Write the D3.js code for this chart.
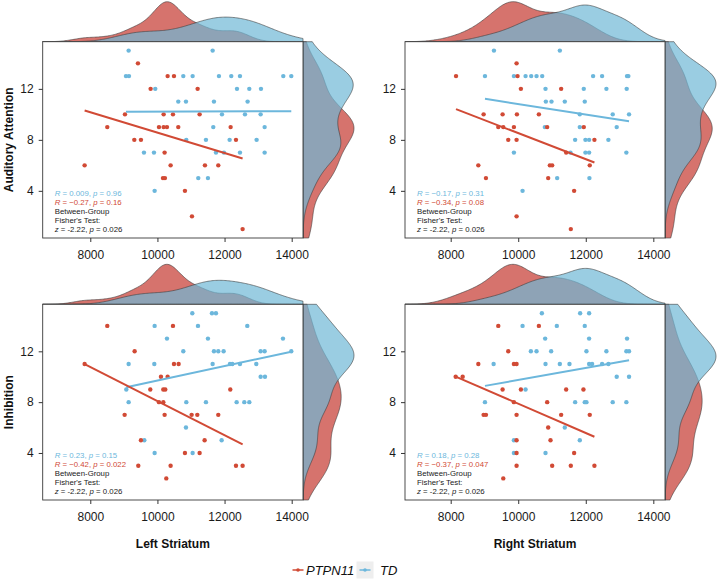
<!DOCTYPE html>
<html>
<head>
<meta charset="utf-8">
<script src="https://cdn.jsdelivr.net/npm/d3@7/dist/d3.min.js"></script>
<style>
  body { margin: 0; background: #fff; }
  text { font-family: "Liberation Sans", Arial, sans-serif; }
</style>
</head>
<body>
<div id="chart"></div>
<script>

// [striatum volume, score]
const attnLeftPTPN11 = [[9420,14],[10304,13],[10493,13],[9797,12],[11198,12],[9033,10],[10185,10],[10463,10],[11257,10],[8506,9],[10046,9],[10185,9],[10284,9],[10621,9],[12181,9],[9311,8],[9509,8],[12340,8],[10214,7],[7831,6],[10393,6],[11416,6],[11813,6],[10165,5],[10224,5],[10820,4],[11029,2],[12538,1]];
const attnLeftTD = [[9142,15],[11645,15],[9063,13],[9152,13],[10771,13],[11049,13],[11833,13],[12200,13],[12459,13],[13750,13],[13988,13],[9936,12],[12370,12],[12737,12],[13085,12],[10621,11],[10850,11],[11684,11],[12687,11],[11923,10],[12608,10],[13075,10],[11664,9],[13194,9],[10860,8],[11446,8],[12151,8],[12955,8],[9599,7],[9897,7],[11744,7],[11982,7],[12459,7],[13194,7],[11217,5],[11505,5],[9917,4]];

const attnRightPTPN11 = [[8158,13],[9951,14],[9980,13],[10079,12],[11271,12],[8975,10],[9537,10],[9961,10],[10611,10],[9409,9],[9557,9],[9872,9],[10857,9],[11941,9],[9704,8],[9951,8],[12256,8],[11419,7],[8818,6],[10936,6],[11005,6],[12118,6],[9044,5],[10887,5],[11655,4],[9951,2],[11557,1]];
const attnRightTD = [[9281,15],[11232,15],[9015,13],[9872,13],[10217,13],[10384,13],[10542,13],[10710,13],[12217,13],[12483,13],[13222,13],[13261,13],[10808,12],[11941,12],[12611,12],[13212,12],[10818,11],[10985,11],[11379,11],[11970,11],[11823,10],[12798,10],[13281,10],[10788,9],[11823,9],[12916,9],[11685,8],[11990,8],[12099,8],[12670,8],[9872,7],[11547,7],[11990,7],[12099,7],[13202,7],[11153,5],[12108,5],[10128,4]];

const inhLeftPTPN11 = [[8506,14],[10463,14],[9321,12],[7831,11],[10493,11],[10632,11],[10105,10],[10304,10],[9787,9],[10175,9],[10234,9],[12171,9],[10046,8],[10175,8],[9023,7],[10214,7],[11019,7],[11188,7],[11813,7],[9509,5],[11406,5],[10820,4],[11257,4],[9430,3],[10393,3],[12340,3],[12538,3],[10264,2]];
const inhLeftTD = [[11039,15],[11625,15],[11744,15],[9917,14],[11208,14],[12677,14],[10284,13],[11505,13],[13740,13],[10771,12],[11684,12],[11813,12],[11972,12],[13075,12],[13194,12],[13988,12],[9142,11],[9907,11],[11645,11],[12161,11],[12231,11],[12459,11],[12945,11],[13075,10],[13204,10],[9073,9],[9142,8],[10860,8],[11446,8],[12360,8],[12588,8],[12737,8],[10850,6],[9609,5],[11913,5],[9917,4],[11049,4]];

const inhRightPTPN11 = [[9409,14],[10611,14],[9704,12],[8818,11],[9872,11],[9951,11],[8148,10],[8355,10],[9537,9],[10079,9],[11419,9],[11931,9],[9872,8],[10857,8],[8975,7],[9044,7],[9951,7],[11271,7],[12118,7],[10887,6],[9951,5],[10956,5],[9951,4],[11655,4],[9951,3],[11005,3],[11557,3],[12256,3],[9557,2]];
const inhRightTD = [[10700,15],[11833,15],[12099,15],[10128,14],[11143,14],[11970,14],[10798,13],[12099,13],[13222,13],[10374,12],[10542,12],[10975,12],[12020,12],[12611,12],[13202,12],[13281,12],[9271,11],[10808,11],[11232,11],[11517,11],[12099,11],[12187,11],[12483,11],[12670,11],[12916,10],[13281,10],[10217,9],[9015,8],[11685,8],[11970,8],[12020,8],[12798,8],[13202,8],[11379,6],[9872,5],[11823,5],[9872,4],[10808,4]];

// regression line end points [[x0,y0],[x1,y1]]
const fitPTPN11 = [[[7831,10.3],[12538,6.54]], [[8158,10.41],[12256,6.22]], [[7831,11.0],[12538,4.68]], [[8148,10.01],[12256,5.28]]];
const fitTD = [[[9063,10.2],[13988,10.25]], [[9015,11.22],[13281,9.46]], [[9073,9.18],[13988,11.97]], [[9015,9.28],[13281,11.29]]];

// correlation labels
const rTD = ["0.009", "\u22120.17", "0.23", "0.18"];
const pTD = ["0.96", "0.31", "0.15", "0.28"];
const rPTPN11 = ["\u22120.27", "\u22120.34", "\u22120.42", "\u22120.37"];
const pPTPN11 = ["0.16", "0.08", "0.022", "0.047"];

const xTicks = [8000, 10000, 12000, 14000];
const yTicks = [4, 8, 12];
const rowTitles = ["Auditory Attention", "Inhibition"];
const colTitles = ["Left Striatum", "Right Striatum"];
const groups = ["PTPN11", "TD"];

const red = "#d14a35", blue = "#6cb7dc";
const redFill = "#c4382f", blueFill = "#6fb8d6";

const svg = d3.select("#chart")
    .append("svg")
    .attr("width", 720)
    .attr("height", 582);

const panels = [
    { box: { x: 42.7, y: 41.7, w: 260.3, h: 196.3 }, xd: [6582, 14337], ptpn: attnLeftPTPN11, td: attnLeftTD },
    { box: { x: 405, y: 41.7, w: 260, h: 196.3 }, xd: [6647, 14346], ptpn: attnRightPTPN11, td: attnRightTD },
    { box: { x: 42.7, y: 304.3, w: 260.3, h: 195.7 }, xd: [6582, 14337], ptpn: inhLeftPTPN11, td: inhLeftTD },
    { box: { x: 405, y: 304.3, w: 260, h: 195.7 }, xd: [6647, 14346], ptpn: inhRightPTPN11, td: inhRightTD }
];

// bandwidth like R's bw.nrd0
function nrd0(v) {
    const s = v.slice().sort(d3.ascending);
    const sd = d3.deviation(s);
    const iqr = d3.quantile(s, 0.75) - d3.quantile(s, 0.25);
    return 0.9 * Math.min(sd, iqr / 1.34) * Math.pow(s.length, -0.2);
}

function kde(v, grid) {
    const bw = nrd0(v);
    return grid.map(g => {
        const d = d3.sum(v, x => Math.exp(-0.5 * ((g - x) / bw) ** 2));
        return [g, d / (v.length * bw * Math.sqrt(2 * Math.PI))];
    });
}

panels.forEach((p, i) => {
    const b = p.box;
    const g = svg.append("g");

    const x = d3.scaleLinear().domain(p.xd).range([b.x, b.x + b.w]);
    const y = d3.scaleLinear().domain([0.3, 15.7]).range([b.y + b.h, b.y]);

    // top marginal density
    const gx = d3.range(0, 201).map(k => p.xd[0] + (p.xd[1] - p.xd[0]) * k / 200);
    const dxR = kde(p.ptpn.map(d => d[0]), gx);
    const dxB = kde(p.td.map(d => d[0]), gx);
    const mx = d3.max(dxR.concat(dxB), d => d[1]);
    const hy = d3.scaleLinear().domain([0, mx]).range([b.y, b.y - 40]);
    const topArea = d3.area().x(d => x(d[0])).y0(b.y).y1(d => hy(d[1])).curve(d3.curveBasis);
    [[dxR, redFill], [dxB, blueFill]].forEach(([dd, c]) => {
        g.append("path").datum(dd).attr("d", topArea)
            .attr("fill", c).attr("fill-opacity", 0.7)
            .attr("stroke", "#3c3c3c").attr("stroke-width", 0.6);
    });

    // right marginal density
    const gy = d3.range(0, 201).map(k => 0.3 + 15.4 * k / 200);
    const dyR = kde(p.ptpn.map(d => d[1]), gy);
    const dyB = kde(p.td.map(d => d[1]), gy);
    const my = d3.max(dyR.concat(dyB), d => d[1]);
    const wx = d3.scaleLinear().domain([0, my]).range([b.x + b.w, b.x + b.w + 51]);
    const sideArea = d3.area().y(d => y(d[0])).x0(b.x + b.w).x1(d => wx(d[1])).curve(d3.curveBasis);
    [[dyR, redFill], [dyB, blueFill]].forEach(([dd, c]) => {
        g.append("path").datum(dd).attr("d", sideArea)
            .attr("fill", c).attr("fill-opacity", 0.7)
            .attr("stroke", "#3c3c3c").attr("stroke-width", 0.6);
    });

    g.append("rect")
        .attr("x", b.x).attr("y", b.y)
        .attr("width", b.w).attr("height", b.h)
        .attr("fill", "#fff")
        .attr("stroke", "#3a3a3a").attr("stroke-width", 0.9);

    // axes
    const ax = g.append("g")
        .attr("transform", `translate(0,${b.y + b.h})`)
        .call(d3.axisBottom(x).tickValues(xTicks).tickFormat(d3.format("d")).tickSize(4).tickPadding(8));
    const ay = g.append("g")
        .attr("transform", `translate(${b.x},0)`)
        .call(d3.axisLeft(y).tickValues(yTicks).tickSize(4).tickPadding(5));
    [ax, ay].forEach(a => {
        a.select(".domain").remove();
        a.selectAll(".tick line").attr("stroke", "#333");
        a.selectAll(".tick text").attr("fill", "#1a1a1a")
            .style("font-size", "12px").style("font-family", "'Liberation Sans', Arial, sans-serif");
    });

    // points
    g.selectAll(".ptd").data(p.td).enter().append("circle")
        .attr("cx", d => x(d[0])).attr("cy", d => y(d[1]))
        .attr("r", 2.2).attr("fill", blue);
    g.selectAll(".pptpn").data(p.ptpn).enter().append("circle")
        .attr("cx", d => x(d[0])).attr("cy", d => y(d[1]))
        .attr("r", 2.2).attr("fill", red);

    // fitted lines
    const line = d3.line().x(d => x(d[0])).y(d => y(d[1]));
    g.append("path").datum(fitTD[i]).attr("d", line)
        .attr("stroke", blue).attr("stroke-width", 2).attr("fill", "none");
    g.append("path").datum(fitPTPN11[i]).attr("d", line)
        .attr("stroke", red).attr("stroke-width", 2).attr("fill", "none");

    // stats text
    const tx = b.x + 12, base = b.y + b.h, fs = "7.8px";
    const stat = (yy, col, r, pv) => {
        const t = g.append("text").attr("x", tx).attr("y", yy)
            .attr("fill", col).style("font-size", fs);
        t.append("tspan").style("font-style", "italic").text("R");
        t.append("tspan").text(` = ${r}, `);
        t.append("tspan").style("font-style", "italic").text("p");
        t.append("tspan").text(` = ${pv}`);
    };
    stat(base - 42.5, blue, rTD[i], pTD[i]);
    stat(base - 33.5, red, rPTPN11[i], pPTPN11[i]);
    g.append("text").attr("x", tx).attr("y", base - 24)
        .attr("fill", "#1a1a1a").style("font-size", fs).text("Between-Group");
    g.append("text").attr("x", tx).attr("y", base - 15.2)
        .attr("fill", "#1a1a1a").style("font-size", fs).text("Fisher's Test:");
    const z = g.append("text").attr("x", tx).attr("y", base - 6.4)
        .attr("fill", "#1a1a1a").style("font-size", fs);
    z.append("tspan").style("font-style", "italic").text("z");
    z.append("tspan").text(" = -2.22, ");
    z.append("tspan").style("font-style", "italic").text("p");
    z.append("tspan").text(" = 0.026");
});

// axis titles
rowTitles.forEach((t, i) => {
    const b = panels[i * 2].box;
    svg.append("text")
        .attr("transform", `translate(13,${b.y + b.h / 2}) rotate(-90)`)
        .attr("text-anchor", "middle")
        .style("font-size", "12px").style("font-weight", "bold")
        .attr("fill", "#111")
        .text(t);
});
colTitles.forEach((t, i) => {
    const b = panels[2 + i].box;
    svg.append("text")
        .attr("x", b.x + b.w / 2)
        .attr("y", 548)
        .attr("text-anchor", "middle")
        .style("font-size", "12px").style("font-weight", "bold")
        .attr("fill", "#111")
        .text(t);
});

// legend
const lg = svg.append("g");
const keys = [{ x: 291, col: red, tx: 306 }, { x: 358, col: blue, tx: 380 }];
lg.append("rect").attr("x", 356.5).attr("y", 561.5).attr("width", 17).attr("height", 17).attr("fill", "#eeeeee");
groups.forEach((gname, i) => {
    const k = keys[i];
    lg.append("line").attr("x1", k.x + 1.5).attr("x2", k.x + 12.5).attr("y1", 570).attr("y2", 570)
        .attr("stroke", k.col).attr("stroke-width", 1.5);
    lg.append("circle").attr("cx", k.x + 7).attr("cy", 570).attr("r", 1.8).attr("fill", k.col);
    lg.append("text").attr("x", k.tx).attr("y", 574.5)
        .style("font-size", "13px").style("font-style", "italic")
        .attr("fill", "#111").text(gname);
});

</script>
</body>
</html>
